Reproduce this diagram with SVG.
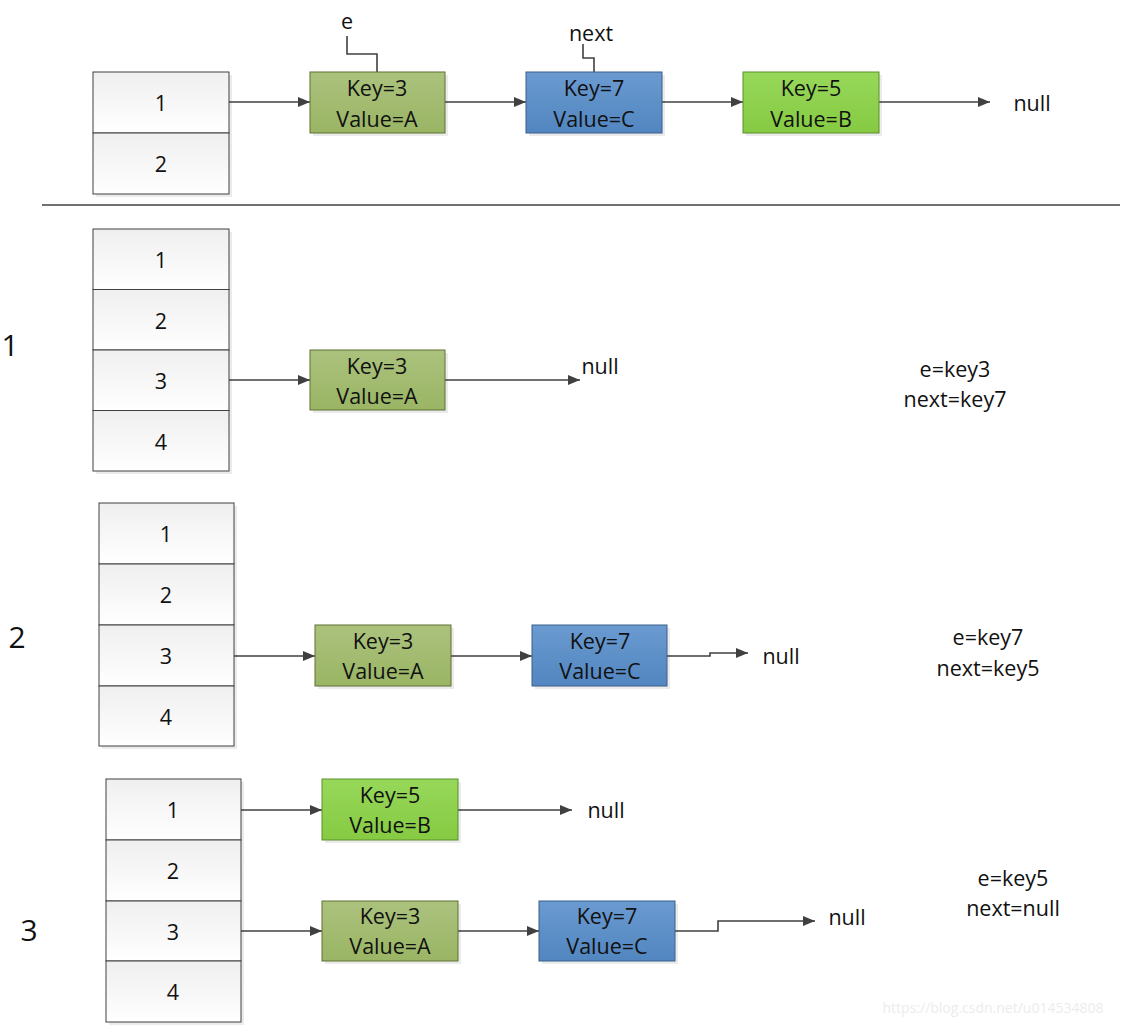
<svg xmlns="http://www.w3.org/2000/svg" width="1121" height="1026" viewBox="0 0 1121 1026">
<defs>
<linearGradient id="gCell" x1="0" y1="0" x2="0" y2="1"><stop offset="0" stop-color="#efefef"/><stop offset="1" stop-color="#ffffff"/></linearGradient>
<linearGradient id="gOlive" x1="0" y1="0" x2="0" y2="1"><stop offset="0" stop-color="#abc27d"/><stop offset="1" stop-color="#9ab564"/></linearGradient>
<linearGradient id="gBlue" x1="0" y1="0" x2="0" y2="1"><stop offset="0" stop-color="#6a9ad0"/><stop offset="1" stop-color="#5286c0"/></linearGradient>
<linearGradient id="gGreen" x1="0" y1="0" x2="0" y2="1"><stop offset="0" stop-color="#97d85a"/><stop offset="1" stop-color="#86ca42"/></linearGradient>
<marker id="arr" viewBox="0 0 12 10" refX="12" refY="5" markerWidth="12" markerHeight="10" markerUnits="userSpaceOnUse" orient="auto"><path d="M0,0 L12,5 L0,10 Z" fill="#404040"/></marker>
</defs>
<style>
text{font-family:"Open Sans","Liberation Sans",sans-serif;font-size:21.5px;fill:#111;text-anchor:middle;dominant-baseline:central}
.cell{fill:url(#gCell);stroke:#404040;stroke-width:1}
.olive{fill:url(#gOlive);stroke:#5f7035;stroke-width:1}
.blue{fill:url(#gBlue);stroke:#3a5f8a;stroke-width:1}
.green{fill:url(#gGreen);stroke:#5a8f2b;stroke-width:1}
.shadow{fill:#000;opacity:0.08}
.c{fill:none;stroke:#404040;stroke-width:1.6}
.ca{fill:none;stroke:#404040;stroke-width:1.6;marker-end:url(#arr)}
.big{font-size:30px}
.wm{font-size:14px;fill:#ececec}
</style>

<g id="connectors">
<path class="ca" d="M229,102 H310"/>
<path class="ca" d="M445,102 H526"/>
<path class="ca" d="M662,102 H743"/>
<path class="ca" d="M879,102 H990"/>
<path class="c" d="M347,36 V54 H377 V72"/>
<path class="c" d="M583,44 V58 H594 V72"/>
<path class="ca" d="M229,380 H310"/>
<path class="ca" d="M445,380 H580"/>
<path class="ca" d="M234,656 H315"/>
<path class="ca" d="M451,656 H532"/>
<path class="ca" d="M667,656 H710 V653 H748"/>
<path class="ca" d="M241,810 H322"/>
<path class="ca" d="M458,810 H572"/>
<path class="ca" d="M241,931 H322"/>
<path class="ca" d="M458,931 H539"/>
<path class="ca" d="M675,931 H718 V921 H815"/>
</g>

<line x1="42" y1="205" x2="1120" y2="205" stroke="#404040" stroke-width="1.5"/>

<!-- Top section -->
<g id="top-table">
<rect class="shadow" x="96" y="75" width="136" height="122"/>
<rect class="cell" x="93" y="72" width="136" height="61"/><text x="161" y="102">1</text>
<rect class="cell" x="93" y="133" width="136" height="61"/><text x="161" y="163">2</text>
</g>
<g id="top-k3"><rect class="shadow" x="313" y="75" width="135" height="61"/><rect class="olive" x="310" y="72" width="135" height="61"/><text x="377" y="87">Key=3</text><text x="377" y="118">Value=A</text></g>
<g id="top-k7"><rect class="shadow" x="529" y="75" width="136" height="61"/><rect class="blue" x="526" y="72" width="136" height="61"/><text x="594" y="87">Key=7</text><text x="594" y="118">Value=C</text></g>
<g id="top-k5"><rect class="shadow" x="746" y="75" width="136" height="61"/><rect class="green" x="743" y="72" width="136" height="61"/><text x="811" y="87">Key=5</text><text x="811" y="118">Value=B</text></g>
<g id="top-null"><text x="1032" y="102">null</text></g>
<g id="lbl-e"><text x="347" y="20">e</text></g>
<g id="lbl-next"><text x="591" y="32">next</text></g>

<!-- Section 1 -->
<g id="s1-num"><text class="big" x="10" y="344">1</text></g>
<g id="s1-table">
<rect class="shadow" x="96" y="232" width="136" height="242"/>
<rect class="cell" x="93" y="229" width="136" height="60.5"/><text x="161" y="259">1</text>
<rect class="cell" x="93" y="289.5" width="136" height="60.5"/><text x="161" y="320">2</text>
<rect class="cell" x="93" y="350" width="136" height="60.5"/><text x="161" y="380">3</text>
<rect class="cell" x="93" y="410.5" width="136" height="60.5"/><text x="161" y="441">4</text>
</g>
<g id="s1-k3"><rect class="shadow" x="313" y="353" width="135" height="60"/><rect class="olive" x="310" y="350" width="135" height="60"/><text x="377" y="365">Key=3</text><text x="377" y="395">Value=A</text></g>
<g id="s1-null"><text x="600" y="365">null</text></g>
<g id="s1-state"><text x="955" y="368">e=key3</text><text x="955" y="398">next=key7</text></g>

<!-- Section 2 -->
<g id="s2-num"><text class="big" x="17" y="636">2</text></g>
<g id="s2-table">
<rect class="shadow" x="102" y="506" width="135" height="243"/>
<rect class="cell" x="99" y="503" width="135" height="61"/><text x="166" y="533">1</text>
<rect class="cell" x="99" y="564" width="135" height="61"/><text x="166" y="594">2</text>
<rect class="cell" x="99" y="625" width="135" height="61"/><text x="166" y="655">3</text>
<rect class="cell" x="99" y="686" width="135" height="60"/><text x="166" y="716">4</text>
</g>
<g id="s2-k3"><rect class="shadow" x="318" y="628" width="136" height="61"/><rect class="olive" x="315" y="625" width="136" height="61"/><text x="383" y="640">Key=3</text><text x="383" y="670">Value=A</text></g>
<g id="s2-k7"><rect class="shadow" x="535" y="628" width="135" height="61"/><rect class="blue" x="532" y="625" width="135" height="61"/><text x="600" y="640">Key=7</text><text x="600" y="670">Value=C</text></g>
<g id="s2-null"><text x="781" y="655">null</text></g>
<g id="s2-state"><text x="988" y="636">e=key7</text><text x="988" y="667">next=key5</text></g>

<!-- Section 3 -->
<g id="s3-num"><text class="big" x="29" y="929">3</text></g>
<g id="s3-table">
<rect class="shadow" x="109" y="782" width="135" height="243"/>
<rect class="cell" x="106" y="779" width="135" height="61"/><text x="173" y="809">1</text>
<rect class="cell" x="106" y="840" width="135" height="61"/><text x="173" y="870">2</text>
<rect class="cell" x="106" y="901" width="135" height="60"/><text x="173" y="931">3</text>
<rect class="cell" x="106" y="961" width="135" height="61"/><text x="173" y="991">4</text>
</g>
<g id="s3-k5"><rect class="shadow" x="325" y="782" width="136" height="61"/><rect class="green" x="322" y="779" width="136" height="61"/><text x="390" y="794">Key=5</text><text x="390" y="824">Value=B</text></g>
<g id="s3-null1"><text x="606" y="809">null</text></g>
<g id="s3-k3"><rect class="shadow" x="325" y="904" width="136" height="60"/><rect class="olive" x="322" y="901" width="136" height="60"/><text x="390" y="915">Key=3</text><text x="390" y="945">Value=A</text></g>
<g id="s3-k7"><rect class="shadow" x="542" y="904" width="136" height="60"/><rect class="blue" x="539" y="901" width="136" height="60"/><text x="607" y="915">Key=7</text><text x="607" y="945">Value=C</text></g>
<g id="s3-null2"><text x="847" y="916">null</text></g>
<g id="s3-state"><text x="1013" y="877">e=key5</text><text x="1013" y="907">next=null</text></g>

<text class="wm" x="993" y="1007">https://blog.csdn.net/u014534808</text>
</svg>
